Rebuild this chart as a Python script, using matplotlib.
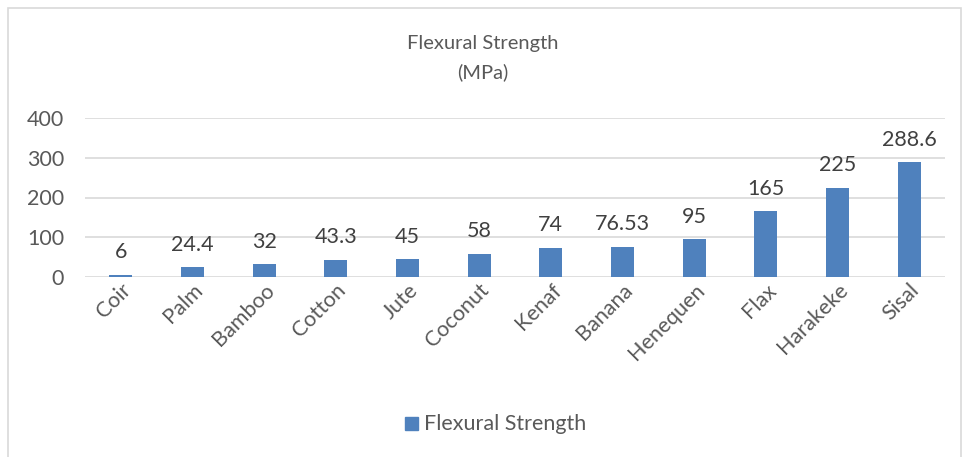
import matplotlib
matplotlib.use("Agg")
import matplotlib.pyplot as plt
from matplotlib.patches import Rectangle

categories = ["Coir", "Palm", "Bamboo", "Cotton", "Jute", "Coconut", "Kenaf",
              "Banana", "Henequen", "Flax", "Harakeke", "Sisal"]
values = [6, 24.4, 32, 43.3, 45, 58, 74, 76.53, 95, 165, 225, 288.6]
labels = ["6", "24.4", "32", "43.3", "45", "58", "74", "76.53", "95", "165", "225", "288.6"]
yticks = [0, 100, 200, 300, 400]

plt.rcParams['font.family'] = ['Lato', 'DejaVu Sans']

fig = plt.figure(figsize=(9.66, 4.57), dpi=100)
ax = fig.add_axes([85/966, 1-277/457, (945-85)/966, (277-118)/457])

bar_color = "#4F81BD"
fs = 15.5
x = list(range(len(categories)))
ax.bar(x, values, width=0.32, color=bar_color, zorder=3)
ax.set_xlim(-0.5, len(categories)-0.5)
ax.set_ylim(0, 400)
ax.set_yticks(yticks)
ax.set_yticklabels([str(t) for t in yticks], fontsize=fs, color="#595959")
ax.set_xticks(x)
ax.set_xticklabels(categories, fontsize=fs, color="#595959", rotation=45,
                   ha="right", rotation_mode="anchor")
ax.tick_params(axis="both", length=0)
ax.tick_params(axis="y", pad=15)
ax.tick_params(axis="x", pad=2)
ax.grid(axis="y", color="#D9D9D9", linewidth=1.2, zorder=0)
for s in ax.spines.values():
    s.set_visible(False)

for xi, v, lab in zip(x, values, labels):
    ax.annotate(lab, (xi, v), xytext=(0, 9), textcoords="offset points",
                ha="center", va="bottom", fontsize=fs, color="#404040")

fig.text(0.5, 1-44/457, "Flexural Strength", ha="center", va="center",
         fontsize=14.5, color="#595959")
fig.text(0.5, 1-72/457, "(MPa)", ha="center", va="center",
         fontsize=14.5, color="#595959")

# legend
fig.patches.append(Rectangle((405/966, 1-430/457), 13/966, 13/457,
                             transform=fig.transFigure, color=bar_color))
fig.text(424/966, 1-424/457, "Flexural Strength", ha="left", va="center",
         fontsize=fs, color="#595959")

# chart border
fig.patches.append(Rectangle((8/966, -0.01), 953/966, 1-8/457+0.01,
                             transform=fig.transFigure, fill=False,
                             edgecolor="#D9D9D9", linewidth=1.2))

fig.savefig("out.png", dpi=100, facecolor="white")
